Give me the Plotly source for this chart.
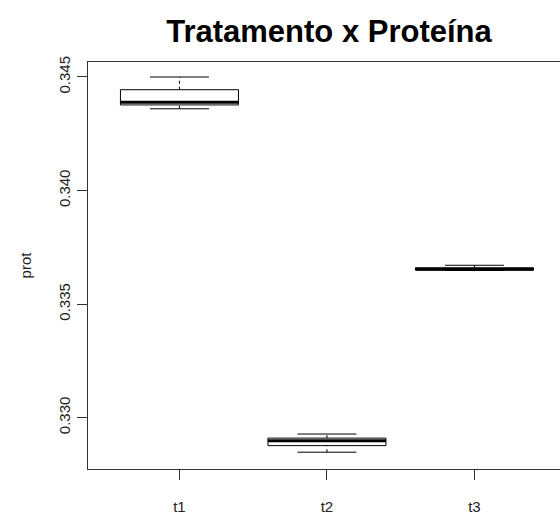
import plotly.graph_objects as go

categories = ["t1", "t2", "t3"]
lower_whisker = [0.34360, 0.32848, 0.33648]
q1_vals = [0.34377, 0.32877, 0.33650]
median_vals = [0.34389, 0.32898, 0.33654]
q3_vals = [0.34444, 0.32910, 0.33660]
upper_whisker = [0.34500, 0.32928, 0.33671]
y_ticks = [0.330, 0.335, 0.340, 0.345]

positions = list(range(1, len(categories) + 1))
box_w = 0.8
cap_w = 0.4
font_fam = "Liberation Sans, Arial, sans-serif"

fig = go.Figure()

# dashed whiskers
wx, wy = [], []
for p, lo, q1, q3, hi in zip(positions, lower_whisker, q1_vals, q3_vals, upper_whisker):
    wx += [p, p, None, p, p, None]
    wy += [lo, q1, None, q3, hi, None]
fig.add_trace(go.Scatter(x=wx, y=wy, mode="lines",
                         line=dict(color="black", width=1, dash="3px,3px"),
                         showlegend=False, hoverinfo="skip"))

# whisker caps
cx, cy = [], []
for p, lo, hi in zip(positions, lower_whisker, upper_whisker):
    cx += [p - cap_w / 2, p + cap_w / 2, None, p - cap_w / 2, p + cap_w / 2, None]
    cy += [lo, lo, None, hi, hi, None]
fig.add_trace(go.Scatter(x=cx, y=cy, mode="lines",
                         line=dict(color="black", width=1),
                         showlegend=False, hoverinfo="skip"))

fig.add_trace(go.Box(
    x=positions, q1=q1_vals, median=median_vals, q3=q3_vals,
    lowerfence=q1_vals, upperfence=q3_vals,
    width=box_w, whiskerwidth=0,
    fillcolor="white", line=dict(color="black", width=1),
    boxpoints=False, showlegend=False, hoverinfo="skip",
))

mx, my = [], []
for p, m in zip(positions, median_vals):
    mx += [p - box_w / 2, p + box_w / 2, None]
    my += [m, m, None]
fig.add_trace(go.Scatter(x=mx, y=my, mode="lines",
                         line=dict(color="black", width=3),
                         showlegend=False, hoverinfo="skip"))

fig.update_layout(
    width=560, height=515,
    margin=dict(l=88, r=0, t=62, b=43),
    paper_bgcolor="white", plot_bgcolor="white",
    font=dict(family=font_fam, color="#222", size=15),
    title=dict(text="<b>Tratamento x Proteína</b>", x=329 / 560, xanchor="center",
               xref="container", y=1 - 31 / 515, yref="container", yanchor="middle",
               font=dict(size=31, color="black", family=font_fam)),
    xaxis=dict(range=[0.38, 3.58], tickvals=positions, ticktext=categories,
               showgrid=False, zeroline=False, showline=True, mirror=True,
               linecolor="#333", linewidth=1, ticks="outside", ticklen=10,
               tickcolor="#333", ticklabelstandoff=14,
               tickfont=dict(size=15, color="#222")),
    yaxis=dict(range=[0.32774, 0.34566], tickvals=y_ticks,
               ticktext=[f"{v:.3f}" for v in y_ticks], tickangle=-90,
               showgrid=False, zeroline=False, showline=True,
               linecolor="#333", linewidth=1, ticks="outside", ticklen=10,
               tickcolor="#333", ticklabelstandoff=1,
               tickfont=dict(size=15, color="#222"),
               title=dict(text="prot", standoff=20, font=dict(size=15, color="#222"))),
)

fig.write_html("out.html")
